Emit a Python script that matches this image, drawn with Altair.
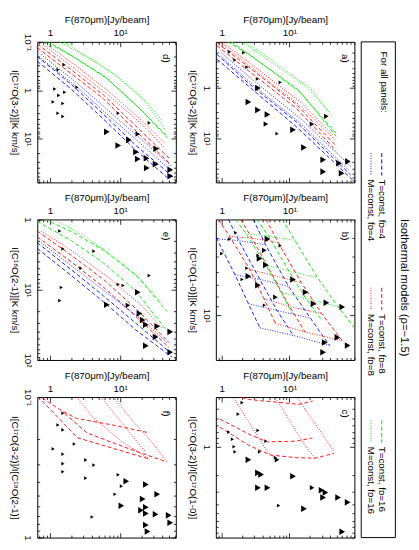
import altair as alt
import pandas as pd

FONT = "Liberation Sans"
BLUE, RED, GREEN = "#0000ff", "#ff0000", "#00e000"
W, H = 142, 144
VS = 38
HS = 41

F_DOM_LEFT = [0.66, 62.0]
F_DOM_RIGHT = [0.82, 91.0]
I_DOM = {"a": [0.12, 76.0], "b": [3.2, 17.0], "c": [0.3, 9.0],
         "d": [0.1, 80.0], "e": [1.0, 100.0], "f": [0.1, 1.0]}
Y_TITLES = {"a": "I[C¹⁷O(3-2)][K km/s]", "b": "I[C¹⁷O(1-0)][K km/s]",
            "c": "I[C¹⁷O(3-2)]/I[C¹⁷O(1-0)]", "d": "I[C¹⁷O(3-2)][K km/s]",
            "e": "I[C¹⁸O(2-1)][K km/s]", "f": "I[C¹⁷O(3-2)]/I[C¹⁸O(2-1)]"}

# ---- model curves: (f_D, kind, F [Jy/beam], I) ----
A_LINES = [
    ("4", "T", [0.85, 2.48, 12.6, 79.7], [0.212, 0.80, 4.71, 53.8]),
    ("4", "T", [0.85, 2.48, 12.6, 87.9], [0.265, 0.915, 5.87, 70.2]),
    ("4", "M", [0.97, 2.92, 14.8, 82.3], [0.194, 0.702, 4.12, 37.8]),
    ("4", "M", [0.97, 2.92, 14.8, 74.7], [0.232, 0.875, 5.15, 43.1]),
    ("8", "T", [0.85, 2.48, 12.6, 49.0], [0.125, 0.377, 2.12, 14.3]),
    ("8", "T", [0.85, 2.48, 12.6, 49.0], [0.143, 0.451, 2.53, 17.8]),
    ("8", "M", [1.0, 2.92, 14.8, 45.9], [0.119, 0.361, 1.94, 9.15]),
    ("8", "M", [1.0, 2.92, 14.8, 45.9], [0.130, 0.412, 2.32, 10.5]),
    ("16", "T", [1.22, 2.48, 12.6, 49.0], [0.119, 0.212, 1.0, 8.0]),
    ("16", "T", [1.38, 2.92, 14.8, 49.0], [0.119, 0.243, 1.25, 9.15]),
    ("16", "M", [1.98, 4.03, 17.3, 39.1], [0.119, 0.232, 0.915, 3.03]),
    ("16", "M", [2.25, 4.74, 20.4, 43.1], [0.119, 0.243, 1.0, 3.78]),
]
D_LINES = [
    ("4", "T", [0.66, 2.02, 5.81, 16.7, 58.0], [0.2, 0.759, 3.16, 13.8, 63.1]),
    ("4", "T", [0.66, 2.02, 5.81, 16.7, 46.4], [0.251, 0.955, 3.98, 17.4, 63.1]),
    ("4", "M", [0.75, 2.37, 6.81, 20.9, 54.5], [0.182, 0.692, 2.63, 11.0, 38.0]),
    ("4", "M", [0.75, 2.37, 6.81, 20.9, 54.5], [0.219, 0.832, 3.31, 13.8, 47.9]),
    ("8", "T", [0.66, 2.02, 5.81, 16.7, 49.5], [0.110, 0.380, 1.26, 5.50, 25.1]),
    ("8", "T", [0.66, 2.02, 5.81, 16.7, 49.5], [0.132, 0.457, 1.51, 6.92, 31.6]),
    ("8", "M", [0.80, 2.37, 6.81, 20.9, 43.5], [0.1, 0.316, 1.05, 4.37, 12.6]),
    ("8", "M", [0.80, 2.37, 6.81, 20.9, 43.5], [0.115, 0.380, 1.26, 5.25, 15.8]),
    ("16", "T", [0.80, 2.02, 5.81, 16.7, 46.4], [0.095, 0.191, 0.50, 2.0, 8.71]),
    ("16", "T", [0.91, 2.22, 6.81, 19.6, 51.1], [0.095, 0.209, 0.603, 2.51, 11.0]),
    ("16", "M", [1.29, 3.06, 8.0, 20.9, 43.5], [0.095, 0.191, 0.457, 1.51, 6.31]),
    ("16", "M", [1.47, 3.59, 9.38, 24.5, 39.6], [0.095, 0.209, 0.525, 1.82, 4.37]),
]
E_LINES = [
    ("16", "T", [0.66, 2.02, 5.81, 16.7, 46.4], [1.065, 2.01, 4.17, 10.47, 38.6]),
    ("16", "T", [0.85, 2.22, 5.81, 16.7, 46.4], [1.0, 1.56, 2.76, 6.12, 20.4]),
    ("16", "M", [1.17, 3.06, 8.0, 20.9, 39.6], [1.0, 1.72, 3.34, 7.63, 15.8]),
    ("8", "T", [0.66, 2.02, 5.81, 16.7, 49.5], [1.46, 3.24, 7.16, 18.6, 56.5]),
    ("8", "T", [0.66, 2.02, 5.81, 16.7, 49.5], [1.77, 4.04, 9.22, 23.97, 66.3]),
    ("8", "M", [0.75, 2.22, 6.81, 20.9, 39.6], [1.46, 2.94, 6.72, 17.4, 35.1]),
    ("4", "T", [0.66, 2.02, 5.81, 16.7, 51.1], [2.14, 5.21, 12.3, 30.0, 77.6]),
    ("4", "T", [0.66, 2.02, 5.81, 16.7, 54.5], [2.59, 6.31, 14.9, 37.4, 91.0]),
    ("4", "M", [0.75, 2.22, 6.81, 20.9, 46.4], [2.14, 4.90, 11.5, 27.2, 56.5]),
]
B_LINES = [
    ("4", "T", [0.68, 0.85, 1.57, 2.48, 3.66], [3.20, 4.03, 6.17, 8.71, 11.6]),
    ("4", "T", [1.26, 1.79, 3.66, 6.56, 11.4], [3.20, 4.12, 6.53, 9.44, 12.7]),
    ("4", "T", [2.92, 4.44, 9.68, 20.4, 39.1], [3.20, 4.32, 7.08, 10.35, 14.3]),
    ("4", "M", [0.85, 1.79, 4.44], [4.03, 4.12, 4.32]),
    ("4", "M", [1.57, 3.66, 9.68], [6.17, 6.53, 7.08]),
    ("4", "M", [2.48, 6.56, 20.4], [8.71, 9.44, 10.35]),
    ("4", "M", [3.66, 11.4, 39.1], [11.6, 12.7, 14.3]),
    ("8", "T", [0.9, 1.3, 2.6, 4.2, 6.2], [3.2, 3.9, 5.8, 8.2, 11.0]),
    ("8", "T", [1.9, 2.8, 5.6, 10.0, 17.0], [3.2, 4.0, 6.2, 9.0, 12.2]),
    ("8", "T", [4.5, 6.8, 15.0, 30.0, 60.0], [3.2, 4.2, 6.8, 9.8, 13.5]),
    ("8", "M", [1.3, 2.8, 6.8], [3.9, 4.0, 4.2]),
    ("8", "M", [2.6, 5.6, 15.0], [5.8, 6.2, 6.8]),
    ("8", "M", [4.2, 10.0, 30.0], [8.2, 9.0, 9.8]),
    ("8", "M", [6.2, 17.0, 60.0], [11.0, 12.2, 13.5]),
    ("16", "T", [1.6, 2.3, 4.5, 7.5, 11.0], [3.2, 3.8, 5.5, 7.6, 9.8]),
    ("16", "T", [3.3, 4.9, 9.8, 17.5, 30.0], [3.2, 3.9, 5.9, 8.2, 10.6]),
    ("16", "T", [7.8, 12.0, 26.0, 52.0, 95.0], [3.2, 4.1, 6.4, 9.0, 11.8]),
    ("16", "M", [2.3, 4.9, 12.0], [3.8, 3.9, 4.1]),
    ("16", "M", [4.5, 9.8, 26.0], [5.5, 5.9, 6.4]),
    ("16", "M", [7.5, 17.5, 52.0], [7.6, 8.2, 9.0]),
]
C_LINES = [
    ("8", "T", [1.6, 2.48, 13.8, 22.0], [0.29, 0.318, 0.358, 0.33]),
    ("8", "T", [0.94, 2.73, 4.74, 12.5, 21.8], [0.511, 0.757, 0.888, 0.873, 0.807]),
    ("8", "T", [0.94, 2.48, 5.23, 12.5, 24.0, 45.9], [0.622, 0.96, 1.22, 1.30, 1.32, 1.17]),
    ("8", "M", [1.43, 4.74, 5.95], [0.29, 1.13, 1.32]),
    ("8", "M", [5.95, 15.7, 24.0], [0.29, 0.888, 1.32]),
    ("8", "M", [12.5, 45.9], [0.29, 1.13]),
]
F_LINES = [
    ("8", "T", [0.774, 1.38, 2.37, 8.0, 26.1], [0.1016, 0.1229, 0.1418, 0.1585, 0.1799]),
    ("8", "T", [0.774, 1.38, 2.45, 8.0, 26.1], [0.1066, 0.1441, 0.1948, 0.2321, 0.2763]),
    ("8", "T", [1.62, 3.37, 12.9, 46.4], [0.1310, 0.1799, 0.2321, 0.2898]),
    ("8", "M", [2.37, 4.22, 11.0, 26.1], [0.1, 0.1418, 0.2110, 0.2763]),
    ("8", "M", [5.27, 9.38, 23.0], [0.1, 0.1418, 0.2472]),
    ("8", "M", [8.0, 15.2, 28.7, 46.4], [0.1, 0.1487, 0.2110, 0.2898]),
]

# ---- observed clumps (triangles): F, I, size class ----
A_TRI_F = [3.43, 2.48, 3.43, 4.74, 11.3, 16.4, 31.5, 31.5, 54.0, 73.1, 58.9, 4.50, 35.1, 21.5, 6.56, 1.30, 2.11, 2.35, 3.36, 7.31, 1.57]
A_TRI_I = [1.0, 1.89, 2.73, 3.36, 6.81, 15.3, 26.8, 46.4, 31.6, 29.0, 50.0, 5.22, 3.66, 5.22, 8.13, 0.19, 0.197, 0.383, 0.66, 0.77, 0.277]
A_TRI_S = ["L"] * 11 + ["M"] * 3 + ["S"] * 7
B_TRI_F = [4.74, 3.62, 4.49, 2.48, 3.43, 11.3, 17.3, 35.1, 22.7, 60.1, 51.1, 33.2, 72.3, 31.4, 6.21, 4.26, 1.61, 1.30, 7.30, 2.35, 3.43, 2.0, 4.26, 1.0]
B_TRI_I = [4.04, 5.09, 5.50, 6.29, 7.0, 6.53, 7.61, 8.61, 8.71, 9.05, 13.0, 13.8, 14.3, 15.5, 8.06, 4.62, 3.75, 4.04, 4.37, 5.71, 4.90, 6.53, 8.88, 4.80]
B_TRI_S = ["L"] * 14 + ["M"] * 2 + ["S"] * 8
C_TRI_F = [2.48, 3.43, 3.82, 11.3, 3.43, 4.74, 29.8, 34.0, 31.4, 52.3, 72.3, 16.4, 60.1, 21.6, 6.56, 6.93, 2.0, 1.75, 3.43, 1.27, 1.44, 4.49, 3.62, 1.52, 1.57, 6.21]
C_TRI_I = [1.37, 1.88, 1.96, 2.04, 2.69, 2.69, 2.86, 3.03, 3.41, 3.41, 3.84, 4.49, 7.83, 2.69, 1.37, 4.15, 0.344, 0.454, 0.673, 0.70, 0.833, 0.873, 1.13, 1.0, 1.13, 1.30]
C_TRI_S = ["L"] * 13 + ["M"] * 2 + ["S"] * 11
D_TRI_F = [6.45, 13.3, 9.38, 16.8, 17.8, 23.7, 23.9, 32.6, 31.9, 51.6, 51.6, 17.8, 1.30, 1.62, 2.42, 1.17, 1.33, 1.11, 1.53, 1.53, 1.30, 9.38, 25.9, 1.58]
D_TRI_I = [7.24, 10.6, 13.8, 18.8, 26.3, 25.5, 40.4, 16.1, 33.6, 43.7, 60.0, 8.05, 0.375, 1.10, 0.87, 0.94, 1.28, 1.74, 1.88, 3.47, 2.98, 2.98, 4.72, 0.298]
D_TRI_S = ["L"] * 11 + ["M"] + ["S"] * 12
E_TRI_F = [6.45, 17.8, 18.8, 20.9, 23.2, 33.7, 31.9, 51.6, 23.2, 51.6, 12.9, 4.22, 1.53, 1.38, 1.45, 1.38, 9.38, 11.0, 25.9, 2.75]
E_TRI_I = [16.4, 10.9, 21.8, 26.9, 31.6, 33.2, 47.1, 39.8, 62.7, 77.6, 16.7, 2.83, 2.62, 1.46, 9.3, 14.3, 8.4, 8.7, 6.3, 4.94]
E_TRI_S = ["L"] * 10 + ["M"] + ["S"] * 9
F_TRI_F = [12.2, 23.2, 33.7, 10.4, 20.9, 23.2, 19.8, 23.2, 31.9, 49.0, 51.6, 23.2, 24.5,
           1.53, 1.30, 1.53, 2.22, 1.11, 1.53, 1.53, 1.53, 3.23, 4.22, 3.23, 9.38, 10.4, 8.44, 3.99]
F_TRI_I = [0.398, 0.419, 0.492, 0.593, 0.532, 0.608, 0.640, 0.675, 0.683, 0.695, 0.785, 0.813, 0.904,
           0.1305, 0.1582, 0.1714, 0.216, 0.234, 0.255, 0.298, 0.340, 0.281, 0.305, 0.378, 0.358, 0.431, 0.492, 0.714]
F_TRI_S = ["L"] * 13 + ["S"] * 15

LEGEND_ITEMS = [("4", BLUE), ("8", RED), ("16", GREEN)]

# ---- axes helpers ----
MAJ = "abs(log(datum.value)/LN10 - round(log(datum.value)/LN10)) < 0.01"
EXP = "round(log(datum.value)/LN10)"
LABEL_EXPR = (f"({MAJ}) ? ({EXP} == 0 ? '1' : {EXP} == 1 ? '10¹' : {EXP} == 2 ? '10²' : "
              f"{EXP} == -1 ? '10⁻¹' : '') : ''")
TICK_SIZE = {"condition": {"test": MAJ, "value": -5}, "value": -2.5}


def ticks_for(dom):
    out = []
    for e in range(-2, 3):
        for m in range(1, 10):
            v = round(m * 10.0 ** e, 6)
            if dom[0] <= v <= dom[1]:
                out.append(v)
    return out


COMMON = dict(domain=False, grid=False, tickSize=TICK_SIZE, tickColor="black", tickWidth=0.8,
              labelFont=FONT, labelFontSize=10, labelColor="black", labelOverlap=False,
              labelFlush=False, titleFont=FONT, titleFontSize=10, titleFontWeight="normal",
              titleColor="black")


def ax_top(dom):
    return alt.Axis(orient="top", values=ticks_for(dom), labelExpr=LABEL_EXPR,
                    title="F(870μm)[Jy/beam]", labelPadding=9, titlePadding=1, labelAngle=0, **COMMON)


def ax_bottom(dom):
    return alt.Axis(orient="bottom", values=ticks_for(dom), labels=False, title=None, **COMMON)


def ax_left(dom, title):
    return alt.Axis(orient="left", values=ticks_for(dom), labelExpr=LABEL_EXPR, title=title,
                    labelAngle=90, labelAlign="center", labelBaseline="top", labelPadding=10,
                    titleAngle=90, titleBaseline="top", titleAlign="center", titlePadding=1, **COMMON)


def ax_right(dom):
    return alt.Axis(orient="right", values=ticks_for(dom), labels=False, title=None, **COMMON)


def legend_layers():
    one = pd.DataFrame({"k": [0]})
    x0 = W + 7
    lh = 3 * H + 2 * VS
    out = [
        alt.Chart(one).mark_rect(fill=None, stroke="black", strokeWidth=1).encode(
            x=alt.value(x0), x2=alt.value(x0 + 35), y=alt.value(0), y2=alt.value(lh)),
        alt.Chart(one).mark_text(angle=90, font=FONT, fontSize=10, align="left", baseline="middle",
                                 color="black").encode(
            x=alt.value(x0 + 23), y=alt.value(10), text=alt.value("For all panels:")),
        alt.Chart(one).mark_text(angle=90, font=FONT, fontSize=11.5, align="center", baseline="middle",
                                 color="black").encode(
            x=alt.value(x0 + 44), y=alt.value(252), text=alt.value("Isothermal models (ρ=−1.5)")),
    ]
    starts = [114, 252, 388]
    for (fd, col), y0 in zip(LEGEND_ITEMS, starts):
        for xc, dash, lbl in [(21, [4, 2.5], "T=const, fᴅ="), (10, [1, 1.6], "M=const, fᴅ=")]:
            out.append(alt.Chart(one).mark_rule(color=col, strokeDash=dash, strokeWidth=1).encode(
                x=alt.value(x0 + xc), y=alt.value(y0), y2=alt.value(y0 + 23)))
            out.append(alt.Chart(one).mark_text(angle=90, font=FONT, fontSize=10, align="left",
                                                baseline="middle", color="black").encode(
                x=alt.value(x0 + xc), y=alt.value(y0 + 27), text=alt.value(lbl + fd)))
    return out


def panel(key, lines, tf, ti, ts, fdom, label, extra=()):
    rows = []
    for k, (fd, kind, fs, ivs) in enumerate(lines):
        for j, (fv, iv) in enumerate(zip(fs, ivs)):
            rows.append({"F": fv, "I": iv, "fD": fd, "kind": kind, "lid": k, "o": j})
    ldf = pd.DataFrame(rows)
    tdf = pd.DataFrame({"F": tf, "I": ti, "s": ts})
    xs = alt.Scale(type="log", domain=fdom, nice=False)
    ys = alt.Scale(type="log", domain=I_DOM[key], nice=False, reverse=True)
    ln = alt.Chart(ldf).mark_line(clip=True, strokeWidth=0.9).encode(
        x=alt.X("F:Q", scale=xs, axis=ax_top(fdom)),
        y=alt.Y("I:Q", scale=ys, axis=ax_left(I_DOM[key], Y_TITLES[key])),
        color=alt.Color("fD:N", scale=alt.Scale(domain=["4", "8", "16"], range=[BLUE, RED, GREEN]), legend=None),
        strokeDash=alt.StrokeDash("kind:N", scale=alt.Scale(domain=["T", "M"], range=[[4, 2.5], [1, 1.6]]), legend=None),
        detail="lid:N", order="o:Q")
    tr = alt.Chart(tdf).mark_point(shape="triangle-right", filled=True, color="black", opacity=1, clip=True).encode(
        x=alt.X("F:Q", scale=xs, axis=ax_bottom(fdom)),
        y=alt.Y("I:Q", scale=ys, axis=ax_right(I_DOM[key])),
        size=alt.Size("s:N", scale=alt.Scale(domain=["S", "M", "L"], range=[14, 45, 110]), legend=None))
    lab = alt.Chart(pd.DataFrame({"t": [label]})).mark_text(
        angle=90, font=FONT, fontSize=10, align="center", baseline="middle", color="black").encode(
        x=alt.value(W - 10), y=alt.value(17), text="t:N")
    return alt.layer(ln, tr, lab, *extra).resolve_axis(x="independent", y="independent").properties(width=W, height=H)


pa = panel("a", A_LINES, A_TRI_F, A_TRI_I, A_TRI_S, F_DOM_RIGHT, "a)", legend_layers())
pb = panel("b", B_LINES, B_TRI_F, B_TRI_I, B_TRI_S, F_DOM_RIGHT, "b)")
pc = panel("c", C_LINES, C_TRI_F, C_TRI_I, C_TRI_S, F_DOM_RIGHT, "c)")
pd_ = panel("d", D_LINES, D_TRI_F, D_TRI_I, D_TRI_S, F_DOM_LEFT, "d)")
pe = panel("e", E_LINES, E_TRI_F, E_TRI_I, E_TRI_S, F_DOM_LEFT, "e)")
pf = panel("f", F_LINES, F_TRI_F, F_TRI_I, F_TRI_S, F_DOM_LEFT, "f)")

chart = alt.concat(pd_, pa, pe, pb, pf, pc, columns=2, spacing={"row": VS, "column": HS},
                   bounds="flush").properties(
    padding={"left": 0, "top": 0, "right": 0, "bottom": 0}, background="white"
).configure_view(stroke="black", strokeWidth=1)

chart.save("out.html", embed_options={"renderer": "svg", "actions": False})
